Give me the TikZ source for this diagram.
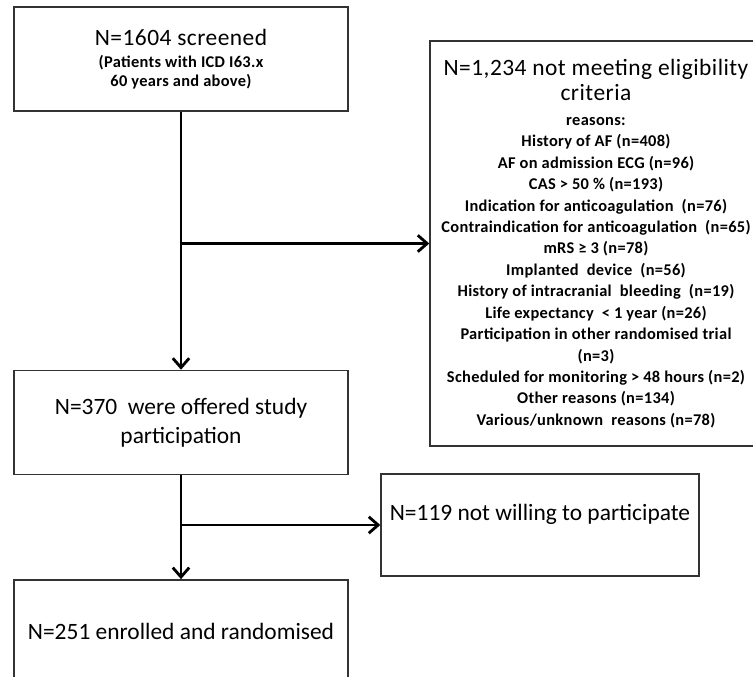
\documentclass[tikz,border=0pt]{standalone}
\usepackage{fontspec}
\setmainfont{Carlito}
\newfontfamily\smallfam[LetterSpace=2.0]{Carlito}
\usepackage{tikz}
\usetikzlibrary{positioning, arrows.meta}

\newcommand{\bigtxt}{\fontsize{20}{24.6}\selectfont\mdseries}
\newcommand{\smalltxt}{\smallfam\fontsize{14}{18.3}\selectfont\bfseries}

\begin{document}
\begin{tikzpicture}[
    x=0.03cm, y=-0.03cm,
    box/.style={rectangle, draw=black!80, line width=1.2pt, minimum width=10.02cm, minimum height=3.12cm, align=center, font=\bigtxt},
    conn/.style={line width=2.4pt, -{Straight Barb[length=8pt, width=14pt]}}
]
    \useasboundingbox (0,0) rectangle (753,677);

    % Boxes
    \node[box, font=\smallfam\fontsize{14}{16}\selectfont\bfseries] (screened) at (181,59)
        {\bigtxt N=1604 screened\\[3.5pt]
         \smalltxt (Patients with ICD I63.x\\
         \smalltxt 60 years and above)};
    \node[box] (offered)  [below=7.74cm of screened] {N=370 \ were offered study\\ participation};
    \node[box] (enrolled) [below=3.12cm of offered]  {N=251 enrolled and randomised};

    \node[box, font=\smalltxt, minimum width=9.96cm, minimum height=12.15cm] (elig) at (596,243.5)
        {\bigtxt N=1,234 not meeting eligibility\\[3pt]
         \bigtxt criteria\\[3pt]
         \smalltxt reasons:\\
         \smalltxt History of AF (n=408)\\
         \smalltxt AF on admission ECG (n=96)\\
         \smalltxt CAS > 50 \% (n=193)\\
         \smalltxt Indication for anticoagulation \ (n=76)\\
         \smalltxt Contraindication for anticoagulation \ (n=65)\\
         \smalltxt mRS ≥ 3 (n=78)\\
         \smalltxt Implanted \ device \ (n=56)\\
         \smalltxt History of intracranial \ bleeding \ (n=19)\\
         \smalltxt Life expectancy \ < 1 year (n=26)\\
         \smalltxt Participation in other randomised trial\\
         \smalltxt (n=3)\\
         \smalltxt Scheduled for monitoring > 48 hours (n=2)\\
         \smalltxt Other reasons (n=134)\\
         \smalltxt Various/unknown \ reasons (n=78)};

    \node[box, minimum width=9.54cm, minimum height=3.06cm, text depth=21.5pt] (notwill) at (540,525)
        {N=119 not willing to participate};

    % Connectors
    \draw[conn] (screened) -- (offered);
    \draw[conn] (screened.south |- elig.west) -- (elig.west);
    \draw[conn] (offered) -- (enrolled);
    \draw[conn] (offered.south |- notwill.west) -- (notwill.west);

\end{tikzpicture}
\end{document}
